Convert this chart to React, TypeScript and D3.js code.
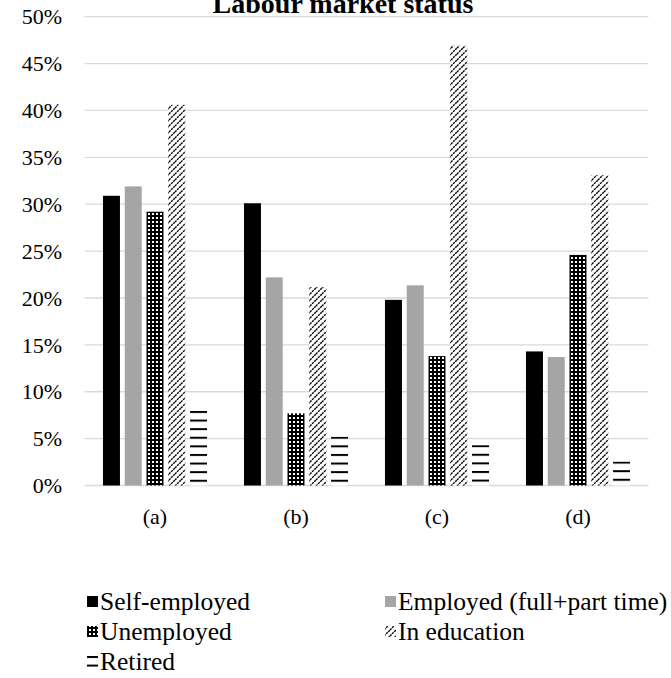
import React from 'react';
import * as d3 from 'd3';

const categories = ['(a)', '(b)', '(c)', '(d)'];
const seriesNames = ['Self-employed', 'Employed (full+part time)', 'Unemployed', 'In education', 'Retired'];
const selfEmployed = [30.9, 30.1, 19.8, 14.3];
const employed = [31.9, 22.2, 21.35, 13.7];
const unemployed = [29.2, 7.7, 13.8, 24.6];
const inEducation = [40.6, 21.15, 46.9, 33.1];
const retired = [7.95, 5.2, 4.3, 2.55];
const yTicks = [0, 5, 10, 15, 20, 25, 30, 35, 40, 45, 50];
const title = 'Labour market status';

const seriesValues = [selfEmployed, employed, unemployed, inEducation, retired];
const FONT = '"Liberation Serif", "Times New Roman", serif';

const W = 671;
const H = 678;
const plot = { left: 84.5, right: 648.5, top: 16.7, bottom: 485.5 };

export default function App() {
  const x0 = d3.scaleBand<string>().domain(categories).range([plot.left, plot.right]).paddingInner(0.262).paddingOuter(0.131);
  const x1 = d3.scaleBand<number>().domain(d3.range(seriesNames.length)).range([0, x0.bandwidth()]).paddingInner(0.22);
  const y = d3.scaleLinear().domain([0, 50]).range([plot.bottom, plot.top]);

  const fillFor = (s: number, ci: number | string) => {
    if (s === 0) return '#000000';
    if (s === 1) return '#a5a5a5';
    if (s === 2) return 'url(#pat-grid)';
    if (s === 3) return 'url(#pat-diag)';
    return `url(#pat-ret-${ci})`;
  };

  const legendItems = seriesNames.map((name, i) => ({
    name,
    col: i % 2,
    row: Math.floor(i / 2),
  }));
  const legendColX = [87, 385];
  const legendRowY = [610, 640, 670];

  return (
    <svg width={W} height={H} style={{ position: 'absolute', left: 0, top: 0, background: '#fff' }} fontFamily={FONT}>
      <defs>
        <pattern id="pat-grid" patternUnits="userSpaceOnUse" width={4} height={4}>
          <rect width={4} height={4} fill="#000" />
          <rect x={1} y={1} width={2} height={2} fill="#fff" />
        </pattern>
        <pattern id="pat-diag" patternUnits="userSpaceOnUse" width={6} height={6}>
          <rect width={6} height={6} fill="#fff" />
          <path d="M-1.5,1.5 L1.5,-1.5 M0,6 L6,0 M4.5,7.5 L7.5,4.5" stroke="#000" strokeWidth={1.4} strokeDasharray="2.2,0.8" />
        </pattern>
        {categories.map((c, ci) => (
          <pattern key={c} id={`pat-ret-${ci}`} patternUnits="userSpaceOnUse" x={0} y={y(retired[ci])} width={4} height={8.6}>
            <rect width={4} height={8.6} fill="#fff" />
            <rect y={0} width={4} height={2} fill="#000" />
          </pattern>
        ))}
        <pattern id="pat-ret-leg" patternUnits="userSpaceOnUse" x={0} y={legendRowY[2] - 14} width={4} height={8.6}>
          <rect width={4} height={8.6} fill="#fff" />
          <rect y={0} width={4} height={2} fill="#000" />
        </pattern>
      </defs>

      <text x={343} y={13} textAnchor="middle" fontSize={28} fontWeight="bold" fill="#000">{title}</text>

      {yTicks.map((t) => (
        <g key={t}>
          <line x1={plot.left} x2={plot.right} y1={y(t)} y2={y(t)} stroke="#d9d9d9" strokeWidth={1.3} />
          <text x={62} y={y(t)} dy="0.35em" textAnchor="end" fontSize={22} fill="#000">{`${t}%`}</text>
        </g>
      ))}

      {categories.map((c, ci) => (
        <g key={c} transform={`translate(${x0(c)},0)`}>
          {seriesValues.map((vals, s) => (
            <rect
              key={s}
              x={x1(s)}
              y={y(vals[ci])}
              width={x1.bandwidth()}
              height={y(0) - y(vals[ci])}
              fill={fillFor(s, ci)}
            />
          ))}
        </g>
      ))}

      {categories.map((c) => (
        <text key={c} x={(x0(c) as number) + x0.bandwidth() / 2} y={524} textAnchor="middle" fontSize={22} fill="#000">{c}</text>
      ))}

      {legendItems.map((it, i) => {
        const lx = legendColX[it.col];
        const ly = legendRowY[it.row];
        return (
          <g key={it.name}>
            <rect x={lx} y={ly - 14} width={11} height={11} fill={i === 4 ? 'url(#pat-ret-leg)' : fillFor(i, 0)} />
            <text x={lx + 13} y={ly} fontSize={25.5} fill="#000">{it.name}</text>
          </g>
        );
      })}
    </svg>
  );
}
